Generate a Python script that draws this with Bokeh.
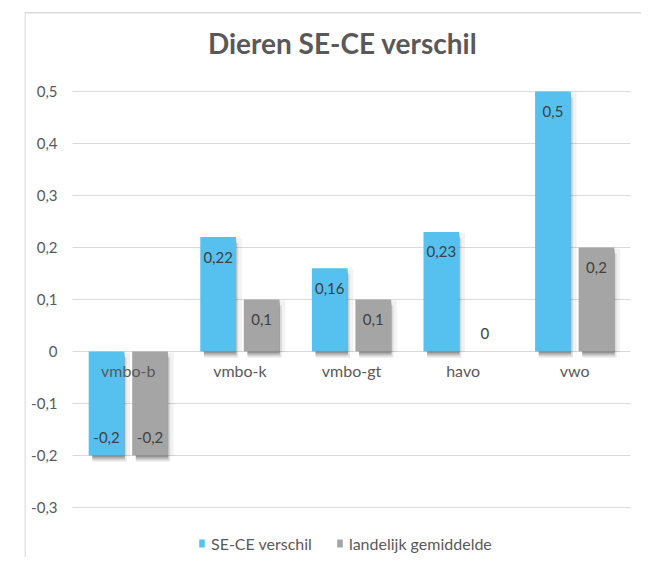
from bokeh.plotting import figure
from bokeh.models import (ColumnDataSource, Range1d, FixedTicker, LinearAxis,
                          CustomJSTickFormatter, Span, Legend, LegendItem, Label, Grid)
from bokeh.transform import dodge
from bokeh.core.properties import value
from bokeh.embed import file_html
from bokeh.resources import INLINE

# ---- data ----
categories = ["vmbo-b", "vmbo-k", "vmbo-gt", "havo", "vwo"]
se_ce = [-0.2, 0.22, 0.16, 0.23, 0.5]
landelijk = [-0.2, 0.1, 0.1, 0.0, 0.2]
y_ticks = [-0.3, -0.2, -0.1, 0.0, 0.1, 0.2, 0.3, 0.4, 0.5]
series_names = ["SE-CE verschil", "landelijk gemiddelde"]
title_text = "Dieren SE-CE verschil"

# ---- style ----
FONT = "Lato"
TXT = "#595959"
BLUE = "#56C1EF"
GREY = "#A5A5A5"
GRID = "#D9D9D9"
BAR_W = 0.32
OFF = 0.195

PX_X = 111.6   # pixels per category
PX_Y = 520.0   # pixels per unit


def fmt(v):
    return f"{v:g}".replace(".", ",")


def make_src(vals):
    return ColumnDataSource(dict(
        x=list(range(len(categories))),
        v=vals,
        top=[max(v, 0) for v in vals],
        bottom=[min(v, 0) for v in vals],
        lbl=[fmt(v) for v in vals],
        yoff=[20 if v > 0 else -18 for v in vals],
    ))


src_a = make_src(se_ce)
src_b = make_src(landelijk)

p = figure(width=641, height=557,
           x_range=Range1d(-0.9301, 4.5986), y_range=Range1d(-0.3962, 0.6538),
           output_backend="svg", toolbar_location=None,
           x_axis_type=None, y_axis_type=None,
           min_border_left=24, min_border_right=0, min_border_top=11, min_border_bottom=0)
p.outline_line_color = None
p.background_fill_color = "white"
p.border_fill_color = "white"

# horizontal grid lines only over the category area
tick = FixedTicker(ticks=y_ticks)
try:
    ygrid = Grid(dimension=1, ticker=tick, grid_line_color=GRID, cross_bounds=(-0.5, 4.5))
except Exception:
    ygrid = Grid(dimension=1, ticker=tick, grid_line_color=GRID)
p.add_layout(ygrid)

# chart frame lines (left and top)
p.add_layout(Span(location=-0.926, dimension="height", line_color=GRID, line_width=1.5))
p.add_layout(Span(location=0.6515, dimension="width", line_color=GRID, line_width=1.5))

# soft drop shadows (Excel style): faint wide halo + darker band below the bar
shadow_layers = [  # (dx px, dy px, width factor, alpha)
    (4, 1, 1.10, 0.05),
    (3, 6, 0.96, 0.10),
    (2, 4, 0.92, 0.16),
    (2, 2, 0.90, 0.20),
]
for src, off in ((src_a, -OFF), (src_b, OFF)):
    for dx, dy, wf, a in shadow_layers:
        p.vbar(x=dodge("x", off + dx / PX_X, range=p.x_range),
               top=dodge("top", -dy / PX_Y, range=p.y_range),
               bottom=dodge("bottom", -dy / PX_Y, range=p.y_range),
               source=src, width=BAR_W * wf, fill_color="#000000", fill_alpha=a,
               line_color=None)

r_a = p.vbar(x=dodge("x", -OFF, range=p.x_range), top="top", bottom="bottom", width=BAR_W,
             source=src_a, fill_color=BLUE, line_color=None)
r_b = p.vbar(x=dodge("x", OFF, range=p.x_range), top="top", bottom="bottom", width=BAR_W,
             source=src_b, fill_color=GREY, line_color=None)

for src, off in ((src_a, -OFF), (src_b, OFF)):
    p.text(x=dodge("x", off, range=p.x_range), y="v", text="lbl", y_offset="yoff",
           source=src, text_align="center", text_baseline="middle",
           text_font=value(FONT), text_font_size="15px", text_color="#404040")

# y axis at the left edge of the category area
yaxis = LinearAxis(ticker=FixedTicker(ticks=y_ticks),
                   formatter=CustomJSTickFormatter(code="""
                       if (Math.abs(tick) < 1e-9) return '0';
                       return tick.toFixed(1).replace('.', ',');"""),
                   fixed_location=-0.5)
yaxis.axis_line_color = None
yaxis.major_tick_line_color = None
yaxis.minor_tick_line_color = None
yaxis.major_tick_out = 0
yaxis.major_tick_in = 0
yaxis.major_label_standoff = 15
yaxis.major_label_text_font = FONT
yaxis.major_label_text_font_size = "15px"
yaxis.major_label_text_color = TXT
p.add_layout(yaxis, "left")

# category axis crossing at zero
xaxis = LinearAxis(ticker=FixedTicker(ticks=list(range(len(categories)))),
                   formatter=CustomJSTickFormatter(args=dict(labels=categories),
                                                   code="return labels[Math.round(tick)] || '';"),
                   fixed_location=0)
xaxis.axis_line_color = None
xaxis.major_tick_line_color = None
xaxis.minor_tick_line_color = None
xaxis.major_tick_out = 0
xaxis.major_tick_in = 0
xaxis.major_label_standoff = 10
xaxis.major_label_text_font = FONT
xaxis.major_label_text_font_size = "16px"
xaxis.major_label_text_color = TXT
p.add_layout(xaxis, "below")

# title
p.add_layout(Label(x=1.92, y=0.5 + 48 / PX_Y, text=title_text, text_align="center",
                   text_baseline="alphabetic", text_font=FONT, text_font_style="bold",
                   text_font_size="28px", text_color=TXT))

legend = Legend(items=[LegendItem(label=series_names[0], renderers=[r_a]),
                       LegendItem(label=series_names[1], renderers=[r_b])],
                orientation="horizontal", location=(174, 4),
                border_line_color=None, background_fill_alpha=0,
                label_text_font=FONT, label_text_font_size="16px", label_text_color=TXT,
                glyph_width=7, glyph_height=10, label_height=20, label_standoff=6,
                spacing=24, padding=0, margin=0)
p.add_layout(legend)

open("out.html", "w").write(file_html(p, INLINE))
